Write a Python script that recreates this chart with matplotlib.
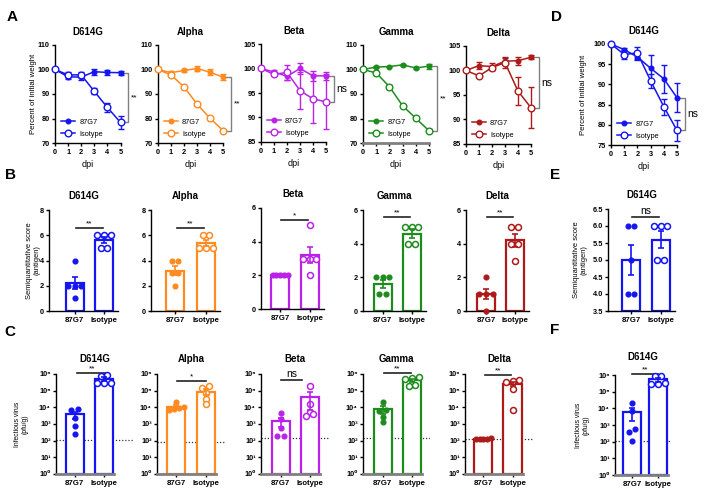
import numpy as np
import matplotlib
matplotlib.use('Agg')
import matplotlib.pyplot as plt
from matplotlib.lines import Line2D

plt.rcParams['font.family'] = ['Liberation Sans', 'DejaVu Sans']
plt.rcParams['font.weight'] = 'bold'
plt.rcParams['axes.linewidth'] = 1.0
plt.rcParams['xtick.major.size'] = 2.5
plt.rcParams['ytick.major.size'] = 2.5
plt.rcParams['xtick.major.width'] = 1.0
plt.rcParams['ytick.major.width'] = 1.0
plt.rcParams['xtick.labelsize'] = 5.3
plt.rcParams['ytick.labelsize'] = 5.3
plt.rcParams['xtick.major.pad'] = 1.5
plt.rcParams['ytick.major.pad'] = 1.2

W, H = 707, 495

AZUL = '#1515f0'
LARANJA = '#ff8a1f'
ROXO = '#bb22e8'
VERDE = '#1d8c1d'
VERMELHO = '#ae1a1a'
CINZA = '#808080'

dias = [0, 1, 2, 3, 4, 5]

# A / D: peso (% do inicial) - media e erro
peso_d614g_87g7 = [100, 97.0, 96.9, 99.1, 98.8, 98.7]
erro_d614g_87g7 = [0, 1.0, 1.0, 1.3, 1.0, 0.8]
peso_d614g_iso = [100, 97.8, 97.8, 91.1, 84.5, 78.4]
erro_d614g_iso = [0, 1.0, 1.0, 1.3, 2.0, 2.7]

peso_alpha_87g7 = [100, 98.7, 99.6, 100.4, 98.9, 96.9]
erro_alpha_87g7 = [0, 0.5, 0.8, 1.2, 1.2, 1.2]
peso_alpha_iso = [100, 97.8, 92.9, 85.9, 80.1, 75.1]
erro_alpha_iso = [0, 0.5, 0.5, 0.4, 0.4, 0.3]

peso_beta_87g7 = [100, 99.3, 98.4, 100.0, 98.5, 98.5]
erro_beta_87g7 = [0, 0.4, 0.8, 1.2, 1.0, 0.8]
peso_beta_iso = [100, 98.8, 99.2, 95.5, 93.8, 93.2]
erro_beta_iso = [0, 0.4, 1.5, 3.8, 5.0, 5.6]

peso_gamma_87g7 = [100, 101.0, 101.2, 101.9, 100.6, 101.4]
erro_gamma_87g7 = [0, 0.3, 0.3, 0.3, 0.3, 1.0]
peso_gamma_iso = [100, 98.6, 93.0, 85.2, 80.1, 75.0]
erro_gamma_iso = [0, 0.8, 0.8, 0.5, 0.5, 0.6]

peso_delta_87g7 = [100, 101.0, 100.8, 101.9, 102.0, 102.7]
erro_delta_87g7 = [0, 0.7, 0.8, 0.8, 0.8, 0.4]
peso_delta_iso = [100, 98.9, 100.6, 101.6, 95.8, 92.4]
erro_delta_iso = [0, 0.3, 0.4, 1.0, 2.8, 4.2]

peso_d_87g7 = [100, 98.6, 96.8, 94.0, 91.4, 86.7]
erro_d_87g7 = [0, 0.3, 0.8, 3.3, 3.5, 3.6]
peso_d_iso = [100, 97.4, 97.8, 90.9, 84.5, 78.6]
erro_d_iso = [0, 1.2, 1.4, 1.7, 2.0, 2.7]

# B / E: escore semiquantitativo (antigeno), por animal
escore_d614g_87g7 = [4, 2, 2, 2, 1]
escore_d614g_iso = [6, 6, 6, 5, 5]
escore_alpha_87g7 = [4, 4, 3, 3, 2]
escore_alpha_iso = [6, 6, 5, 5, 5]
escore_beta_87g7 = [2, 2, 2, 2, 2]
escore_beta_iso = [5, 3, 3, 3, 2]
escore_gamma_87g7 = [2, 2, 2, 1, 1]
escore_gamma_iso = [5, 5, 5, 4, 4]
escore_delta_87g7 = [2, 1, 1, 1, 0]
escore_delta_iso = [5, 5, 4, 4, 3]
escore_e_87g7 = [6, 6, 5, 4, 4]
escore_e_iso = [6, 6, 6, 5, 5]

# C / F: virus infeccioso (pfu/g), por animal
virus_d614g_87g7 = [8300, 7200, 2300, 720, 250]
virus_d614g_iso = [9.0e5, 8.0e5, 3.0e5, 2.8e5, 3.0e5]
virus_alpha_87g7 = [2.0e4, 1.1e4, 9.0e3, 8.0e3, 7.0e3]
virus_alpha_iso = [1.8e5, 1.4e5, 7.0e4, 3.0e4, 1.5e4]
virus_beta_87g7 = [4800, 2000, 560, 180, 200]
virus_beta_iso = [1.9e5, 1.5e4, 5.0e3, 4.0e3, 3.0e3]
virus_gamma_87g7 = [2.2e4, 7.0e3, 5.7e3, 2.6e3, 1.3e3]
virus_gamma_iso = [6.5e5, 6.0e5, 5.0e5, 2.3e5, 2.0e5]
virus_delta_87g7 = [135, 130, 132, 128, 130]
virus_delta_iso = [4.5e5, 4.0e5, 3.5e5, 1.3e5, 6.6e3]
virus_f_87g7 = [2.2e4, 7.2e3, 580, 400, 115]
virus_f_iso = [9.0e5, 9.0e5, 3.0e5, 3.0e5, 3.2e5]

lod = {'D614G': 105, 'Alpha': 85, 'Beta': 140, 'Gamma': 135, 'Delta': 130, 'F': 105}

grupos = ['87G7', 'Isotype']

fig = plt.figure(figsize=(W / 100, H / 100), dpi=100)


def eixo_px(left, top, right, bottom):
    return fig.add_axes([left / W, 1 - bottom / H, (right - left) / W, (bottom - top) / H])


def painel_peso(caixa, titulo, cor, m1, e1, m2, e2, ylim, passo, sig, ylabel_x=None,
                cinza_base=False, sig_tam=6):
    ax = eixo_px(*caixa)
    ax.errorbar(dias, m1, yerr=e1, color=cor, marker='o', ms=3.3, lw=1.1,
                elinewidth=1, capsize=2.2, zorder=3)
    ax.errorbar(dias, m2, yerr=e2, color=cor, marker='o', ms=4.8, mfc='white',
                mew=1.0, lw=1.1, elinewidth=1, capsize=2.2, zorder=3)
    for art in ax.get_children():
        try:
            art.set_clip_on(False)
        except Exception:
            pass
    ax.set_xlim(0, 5)
    ax.set_ylim(*ylim)
    ax.set_xticks(dias)
    ax.set_yticks(np.arange(ylim[0], ylim[1] + 0.1, passo))
    ax.spines[['top', 'right']].set_visible(False)
    if cinza_base:
        ax.spines['bottom'].set_color(CINZA)
        ax.spines['bottom'].set_linewidth(2)
    ax.set_xlabel('dpi', fontsize=6.5, labelpad=3)
    ax.set_title(titulo, fontsize=7, fontweight='bold', pad=7)
    if ylabel_x is not None:
        ax.set_ylabel('Percent of initial weight', fontsize=5.6)
        ax.yaxis.set_label_coords(ylabel_x, 0.5)
    # colchete de significancia
    yt, yb = m1[-1], m2[-1]
    ax.plot([5.1, 5.6, 5.6, 5.1], [yt, yt, yb, yb], color=CINZA, lw=1, clip_on=False)
    ax.text(5.8, (yt + yb) / 2, sig, fontsize=sig_tam, fontweight='normal',
            ha='left', va='center')
    h = [Line2D([0], [0], color=cor, marker='o', ms=3.3, lw=1.1),
         Line2D([0], [0], color=cor, marker='o', ms=4.8, mfc='white', lw=1.1)]
    ax.legend(h, grupos, loc='lower left', bbox_to_anchor=(0.02, 0.0), frameon=False,
              prop={'size': 5.3, 'weight': 'normal'}, handlelength=1.8,
              handletextpad=0.6, labelspacing=0.7, borderaxespad=0.3)
    return ax


def espalhar(vals, log, passo, largura):
    v = np.log10(vals) if log else np.asarray(vals, float)
    tol = 0.22 if log else 1e-9
    xs = np.zeros(len(v))
    blocos = []
    for i in np.argsort(v):
        if blocos and abs(v[i] - v[blocos[-1][0]]) <= tol:
            blocos[-1].append(i)
        else:
            blocos.append([i])
    for b in blocos:
        n = len(b)
        p = passo if n < 2 else min(passo, largura / (n - 1))
        for k, i in enumerate(b):
            xs[i] = (k - (n - 1) / 2) * p
    return xs


def painel_barras(lay, titulo, cor, v1, v2, ylim, yticks, sig, sig_y, log=False,
                  lod_v=None, ylabel=None, ylabel_x=-0.3, sig_span=(0.05, 0.95),
                  sig_tam=6, yfmt=None, titulo_pad=8):
    spine, c0, c1, right, top, bottom = lay
    un = c1 - c0
    ax = eixo_px(spine, top, right, bottom)
    x0, x1 = (spine - c0) / un, (right - c0) / un
    ax.set_xlim(x0, x1)
    if log:
        ax.set_yscale('log')
    ax.set_ylim(*ylim)
    bw = 18 / un
    medias = [np.mean(v1), np.mean(v2)]
    sems = [np.std(v1, ddof=1) / np.sqrt(len(v1)), np.std(v2, ddof=1) / np.sqrt(len(v2))]
    base = ylim[0]
    ax.bar([0, 1], [m - base for m in medias], bottom=base, width=bw, facecolor='white',
           edgecolor=cor, linewidth=1.6, zorder=2)
    for i, (v, cheio) in enumerate([(v1, True), (v2, False)]):
        xs = i + espalhar(v, log, 6.8 / un, 15 / un)
        if cheio:
            ax.plot(xs, v, 'o', color=cor, ms=3.4, zorder=4, clip_on=False)
        else:
            ax.plot(xs, v, 'o', mfc='white', mec=cor, mew=1.1, ms=4.3, zorder=4, clip_on=False)
    ax.errorbar([0, 1], medias, yerr=sems, fmt='none', ecolor=cor, elinewidth=1.2,
                capsize=2.3, capthick=1.2, zorder=5)
    if lod_v is not None:
        ax.axhline(lod_v, color='#333333', ls=(0, (1, 1.5)), lw=0.9, zorder=1)
        ax.spines['bottom'].set_color(CINZA)
        ax.spines['bottom'].set_linewidth(2)
        ax.spines['bottom'].set_bounds(x0, 1 + bw / 2 + 0.05)
    ax.spines[['top', 'right']].set_visible(False)
    ax.set_xticks([0, 1])
    ax.set_xticklabels(grupos, fontsize=5.6)
    ax.set_yticks(yticks)
    if yfmt is not None:
        ax.set_yticklabels(yfmt)
    ax.minorticks_off()
    ax.set_title(titulo, fontsize=7, fontweight='bold', pad=titulo_pad)
    ax.plot(list(sig_span), [sig_y, sig_y], color='#222222', lw=1.2, clip_on=False)
    ax.annotate(sig, (np.mean(sig_span), sig_y), xytext=(0, 0.5), textcoords='offset points',
                ha='center', va='bottom', fontsize=sig_tam, fontweight='normal',
                annotation_clip=False)
    if ylabel:
        ax.set_ylabel(ylabel, fontsize=5.4 if not log else 4.9, linespacing=1.1)
        ax.yaxis.set_label_coords(ylabel_x, 0.5)
    return ax


# ---- linha A e painel D ----
painel_peso((55, 45, 120.5, 143), 'D614G', AZUL, peso_d614g_87g7, erro_d614g_87g7,
            peso_d614g_iso, erro_d614g_iso, (70, 110), 10, '**', ylabel_x=-0.27)
painel_peso((158, 45, 223, 143), 'Alpha', LARANJA, peso_alpha_87g7, erro_alpha_87g7,
            peso_alpha_iso, erro_alpha_iso, (70, 110), 10, '**')
painel_peso((261, 44, 326, 142), 'Beta', ROXO, peso_beta_87g7, erro_beta_87g7,
            peso_beta_iso, erro_beta_iso, (85, 105), 5, 'ns', sig_tam=7.5)
painel_peso((363, 45, 429, 143), 'Gamma', VERDE, peso_gamma_87g7, erro_gamma_87g7,
            peso_gamma_iso, erro_gamma_iso, (70, 110), 10, '**', cinza_base=True)
painel_peso((466, 46, 531, 144), 'Delta', VERMELHO, peso_delta_87g7, erro_delta_87g7,
            peso_delta_iso, erro_delta_iso, (85, 105), 5, 'ns', sig_tam=7.5)
painel_peso((611, 44, 677, 145), 'D614G', AZUL, peso_d_87g7, erro_d_87g7,
            peso_d_iso, erro_d_iso, (75, 100), 5, 'ns', ylabel_x=-0.36, sig_tam=7.5)

# ---- linha B e painel E ----
lab_b = 'Semiquantitative score\n(antigen)'
painel_barras((49, 74.5, 104, 118, 210, 311), 'D614G', AZUL, escore_d614g_87g7,
              escore_d614g_iso, (0, 8), [0, 2, 4, 6, 8], '**', 6.6, ylabel=lab_b,
              ylabel_x=-0.12)
painel_barras((151, 175, 206, 220, 210, 311), 'Alpha', LARANJA, escore_alpha_87g7,
              escore_alpha_iso, (0, 8), [0, 2, 4, 6, 8], '**', 6.6)
painel_barras((261, 280, 309.5, 324, 208, 309), 'Beta', ROXO, escore_beta_87g7,
              escore_beta_iso, (0, 6), [0, 2, 4, 6], '*', 5.3)
painel_barras((363, 382.5, 411.5, 426, 210, 311), 'Gamma', VERDE, escore_gamma_87g7,
              escore_gamma_iso, (0, 6), [0, 2, 4, 6], '**', 5.6)
painel_barras((466, 486, 514.5, 529, 210, 311), 'Delta', VERMELHO, escore_delta_87g7,
              escore_delta_iso, (0, 6), [0, 2, 4, 6], '**', 5.6)
ticks_e = [3.5, 4.0, 4.5, 5.0, 5.5, 6.0, 6.5]
painel_barras((608, 631, 660.5, 675, 209, 311), 'D614G', AZUL, escore_e_87g7,
              escore_e_iso, (3.5, 6.5), ticks_e, 'ns', 6.26, ylabel=lab_b,
              ylabel_x=-0.30, sig_tam=7.5, yfmt=[f'{t:.1f}' for t in ticks_e])

# ---- linha C e painel F ----
lab_c = 'Infectious virus\n(pfu/g)'
ticks_c = [10.0 ** k for k in range(7)]
sobrescrito = '⁰¹²³⁴⁵⁶'
rot_c = ['10' + sobrescrito[k] for k in range(7)]
lim_c = (1, 1e6)
painel_barras((56, 74.5, 104, 133, 374, 474), 'D614G', AZUL, virus_d614g_87g7,
              virus_d614g_iso, lim_c, ticks_c, '**', 10 ** 6.06, log=True,
              lod_v=lod['D614G'], ylabel=lab_c, ylabel_x=-0.36, yfmt=rot_c,
              sig_span=(0.08, 1.1), titulo_pad=9)
painel_barras((157, 176, 205.5, 225, 374, 474), 'Alpha', LARANJA, virus_alpha_87g7,
              virus_alpha_iso, lim_c, ticks_c, '*', 10 ** 5.58, log=True,
              lod_v=lod['Alpha'], yfmt=rot_c, sig_span=(0.03, 1.0), titulo_pad=9)
painel_barras((261, 280.5, 309.5, 329, 374, 474), 'Beta', ROXO, virus_beta_87g7,
              virus_beta_iso, lim_c, ticks_c, 'ns', 10 ** 5.64, log=True,
              lod_v=lod['Beta'], yfmt=rot_c, sig_span=(0.03, 0.75), sig_tam=7.5,
              titulo_pad=9)
painel_barras((363, 382.5, 412, 430, 374, 474), 'Gamma', VERDE, virus_gamma_87g7,
              virus_gamma_iso, lim_c, ticks_c, '**', 10 ** 6.08, log=True,
              lod_v=lod['Gamma'], yfmt=rot_c, titulo_pad=9)
painel_barras((465, 483.5, 512.5, 533, 374, 474), 'Delta', VERMELHO, virus_delta_87g7,
              virus_delta_iso, lim_c, ticks_c, '**', 10 ** 5.95, log=True,
              lod_v=lod['Delta'], yfmt=rot_c, titulo_pad=9)
painel_barras((615, 632, 658, 670, 375, 475), 'D614G', AZUL, virus_f_87g7,
              virus_f_iso, lim_c, ticks_c, '**', 10 ** 6.08, log=True,
              lod_v=lod['F'], ylabel=lab_c, ylabel_x=-0.47, yfmt=rot_c,
              sig_span=(0.0, 1.0), titulo_pad=11)

# letras dos paineis
for letra, x, y in [('A', 12, 17), ('B', 10, 175), ('C', 10, 332),
                    ('D', 556, 17), ('E', 555, 175), ('F', 555, 330)]:
    fig.text(x / W, 1 - y / H, letra, fontsize=11, fontweight='bold', ha='center', va='center')

fig.savefig('out.png', dpi=100)
